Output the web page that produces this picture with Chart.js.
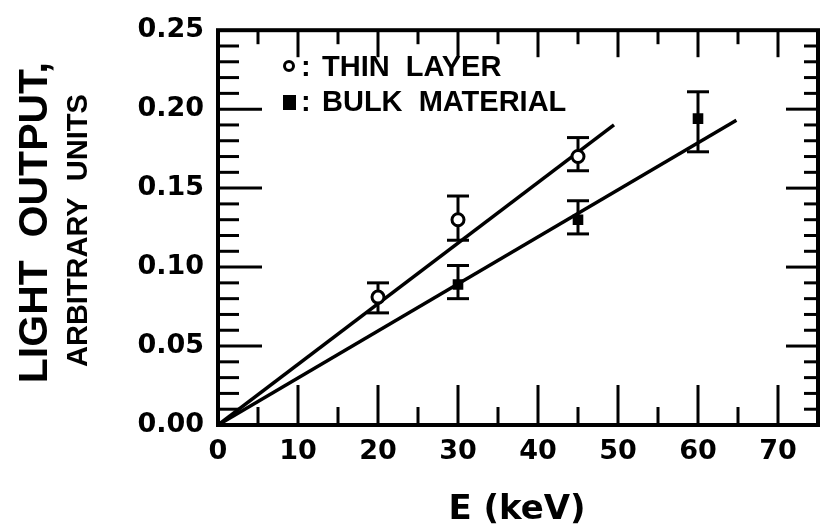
<!DOCTYPE html>
<html>
<head>
<meta charset="utf-8">
<script src="https://cdn.jsdelivr.net/npm/chart.js@4.4.0/dist/chart.umd.min.js"></script>
<style>
  html, body { margin: 0; padding: 0; background: #fff; }
  #wrap { width: 827px; height: 526px; }
</style>
</head>
<body>
<div id="wrap"><canvas id="lightChart" width="827" height="526"></canvas></div>
<script>
// thin layer (open circles)
const thinE       = [20, 30, 45];
const thinLight   = [0.081, 0.130, 0.170];
const thinErrUp   = [0.009, 0.015, 0.012];
const thinErrDown = [0.010, 0.013, 0.009];

// bulk material (filled squares)
const bulkE       = [30, 45, 60];
const bulkLight   = [0.089, 0.130, 0.194];
const bulkErrUp   = [0.012, 0.012, 0.017];
const bulkErrDown = [0.009, 0.009, 0.021];

// fitted straight lines through the origin
const thinFitE     = [0, 49.5];
const thinFitLight = [0, 0.190];
const bulkFitE     = [0, 64.8];
const bulkFitLight = [0, 0.193];

// axes
const xTickValues = [0, 10, 20, 30, 40, 50, 60, 70];
const yTickValues = [0, 0.05, 0.10, 0.15, 0.20, 0.25];
const xInnerTicks = [5, 10, 15, 20, 25, 30, 35, 40, 45, 50, 55, 60, 65, 70];
const yInnerTicks = [0.01, 0.02, 0.03, 0.04, 0.05, 0.06, 0.07, 0.08, 0.09, 0.10,
                     0.11, 0.12, 0.13, 0.14, 0.15, 0.16, 0.17, 0.18, 0.19, 0.20,
                     0.21, 0.22, 0.23, 0.24];

const INK = "#000";
const CAP = 11;

const toXY = (xs, ys) => xs.map((x, i) => ({ x, y: ys[i] }));

function stroke(ctx, x1, y1, x2, y2) {
  ctx.beginPath();
  ctx.moveTo(x1, y1);
  ctx.lineTo(x2, y2);
  ctx.stroke();
}

function drawErrorBars(ctx, sx, sy, xs, ys, up, down) {
  xs.forEach((e, i) => {
    const px = sx.getPixelForValue(e);
    const top = sy.getPixelForValue(ys[i] + up[i]);
    const bot = sy.getPixelForValue(ys[i] - down[i]);
    stroke(ctx, px, top, px, bot);
    stroke(ctx, px - CAP, top, px + CAP, top);
    stroke(ctx, px - CAP, bot, px + CAP, bot);
  });
}

const errorBars = {
  id: "errorBars",
  beforeDatasetsDraw(chart) {
    const ctx = chart.ctx;
    const { x, y } = chart.scales;
    ctx.save();
    ctx.strokeStyle = INK;
    ctx.lineWidth = 3;
    drawErrorBars(ctx, x, y, thinE, thinLight, thinErrUp, thinErrDown);
    drawErrorBars(ctx, x, y, bulkE, bulkLight, bulkErrUp, bulkErrDown);
    ctx.restore();
  },
};

const frameAndTicks = {
  id: "frameAndTicks",
  afterDatasetsDraw(chart) {
    const ctx = chart.ctx;
    const { x, y } = chart.scales;
    const { left, right, top, bottom } = chart.chartArea;
    ctx.save();
    ctx.strokeStyle = INK;
    ctx.lineWidth = 3;
    xInnerTicks.forEach((v) => {
      const px = x.getPixelForValue(v);
      const major = v % 10 === 0;
      stroke(ctx, px, bottom, px, bottom - (major ? 40 : 18));
      stroke(ctx, px, top, px, top + (major ? 27 : 14));
    });
    yInnerTicks.forEach((v) => {
      const py = y.getPixelForValue(v);
      const major = Math.round(v * 100) % 5 === 0;
      stroke(ctx, left, py, left + (major ? 44 : 21), py);
      stroke(ctx, right, py, right - (major ? 32 : 14), py);
    });
    ctx.lineWidth = 4;
    ctx.strokeRect(left, top, right - left, bottom - top);
    ctx.restore();
  },
};

const labels = {
  id: "labels",
  afterDraw(chart) {
    const ctx = chart.ctx;
    const { top, bottom } = chart.chartArea;
    const midY = (top + bottom) / 2;
    ctx.save();
    ctx.fillStyle = INK;
    ctx.strokeStyle = INK;

    // x title
    ctx.textAlign = "center";
    ctx.textBaseline = "alphabetic";
    ctx.font = "bold 34px 'DejaVu Sans'";
    ctx.fillText("E (keV)", 517, 519);

    // y titles, rotated
    ctx.save();
    ctx.translate(47, midY - 5);
    ctx.rotate(-Math.PI / 2);
    ctx.font = "bold 41px 'Liberation Sans'";
    ctx.fillText("LIGHT  OUTPUT,", 0, 0);
    ctx.restore();

    ctx.save();
    ctx.translate(87, midY + 3);
    ctx.rotate(-Math.PI / 2);
    ctx.font = "bold 29px 'Liberation Sans'";
    ctx.fillText("ARBITRARY  UNITS", 0, 0);
    ctx.restore();

    // legend
    ctx.textAlign = "left";
    ctx.font = "bold 29px 'Liberation Sans'";
    ctx.lineWidth = 3;
    ctx.beginPath();
    ctx.arc(289, 66, 4.5, 0, Math.PI * 2);
    ctx.stroke();
    ctx.fillText(":", 301, 76);
    ctx.fillText("THIN  LAYER", 322, 76);

    ctx.fillRect(283, 95, 13, 15);
    ctx.fillText(":", 301, 111);
    ctx.fillText("BULK  MATERIAL", 322, 111);
    ctx.restore();
  },
};

const tickFont = { family: "DejaVu Sans", weight: "bold", size: 27 };

new Chart(document.getElementById("lightChart"), {
  type: "scatter",
  data: {
    datasets: [
      {
        label: "thin layer",
        data: toXY(thinE, thinLight),
        pointStyle: "circle",
        pointRadius: 6,
        pointBorderWidth: 3,
        pointBorderColor: INK,
        pointBackgroundColor: "#fff",
        order: 0,
      },
      {
        label: "bulk material",
        data: toXY(bulkE, bulkLight),
        pointStyle: "rect",
        pointRadius: 7.5,
        pointBorderWidth: 0,
        pointBackgroundColor: INK,
        order: 0,
      },
      {
        label: "thin fit",
        data: toXY(thinFitE, thinFitLight),
        showLine: true,
        borderColor: INK,
        borderWidth: 3.5,
        pointRadius: 0,
        order: 1,
      },
      {
        label: "bulk fit",
        data: toXY(bulkFitE, bulkFitLight),
        showLine: true,
        borderColor: INK,
        borderWidth: 3.5,
        pointRadius: 0,
        order: 1,
      },
    ],
  },
  options: {
    responsive: false,
    animation: false,
    layout: { padding: { top: 20, right: 2, left: 0, bottom: 0 } },
    plugins: { legend: { display: false }, tooltip: { enabled: false } },
    scales: {
      x: {
        type: "linear",
        min: 0,
        max: 75,
        afterBuildTicks: (s) => { s.ticks = xTickValues.map((value) => ({ value })); },
        afterFit: (s) => { s.height = 101; },
        grid: { display: false, drawTicks: false },
        border: { display: false },
        ticks: { font: tickFont, color: INK, padding: 11, maxRotation: 0, autoSkip: false },
      },
      y: {
        type: "linear",
        min: 0,
        max: 0.25,
        afterBuildTicks: (s) => { s.ticks = yTickValues.map((value) => ({ value })); },
        afterFit: (s) => { s.width = 218; },
        grid: { display: false, drawTicks: false },
        border: { display: false },
        ticks: {
          font: tickFont,
          color: INK,
          padding: 14,
          autoSkip: false,
          callback: (v) => Number(v).toFixed(2),
        },
      },
    },
  },
  plugins: [errorBars, frameAndTicks, labels],
});
</script>
</body>
</html>
